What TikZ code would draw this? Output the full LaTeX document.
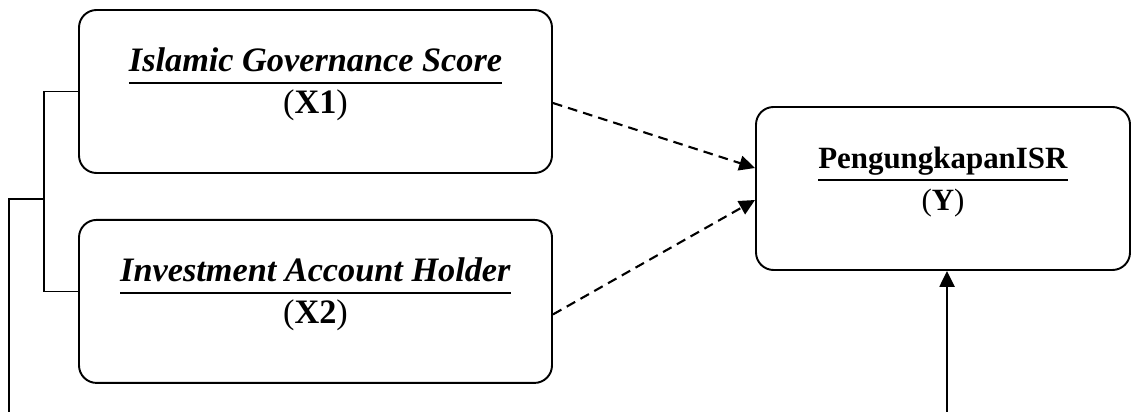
\documentclass[tikz,border=0pt]{standalone}
\usepackage{fontspec}
\setmainfont{Liberation Serif}
\usepackage{tikz}
\usetikzlibrary{arrows.meta, positioning, calc}
\tikzset{every node/.append style={align=center}}
\tikzset{
  var/.style={rectangle, draw, line width=1.1pt, rounded corners=10pt,
    minimum width=94.6mm, minimum height=32.6mm, text centered,
    font=\fontsize{19.5}{20}\selectfont},
  res/.style={var, minimum width=74.8mm, font=\fontsize{17.6}{20}\selectfont},
  arrow/.style={-{Triangle[length=9pt,width=8.5pt]}, line width=1.2pt},
  infl/.style={arrow, dash pattern=on 5.5pt off 3.5pt},
  brk/.style={line width=0.6pt}
}
\setlength{\arrayrulewidth}{1pt}
\newcommand{\frm}[2]{\begin{tabular}{@{}c@{}}#1\\\hline\rule{0pt}{17pt}#2\\[7pt]\end{tabular}}

\begin{document}
\begin{tikzpicture}[node distance=9mm and 40.8mm]
  \useasboundingbox (0,0) rectangle (22.64,-8.24);
  \node[var] (x1) at (6.31,-1.83) {\frm{\textbf{\textit{Islamic Governance Score}}}{(\textbf{X1})}};
  \node[var, below=of x1] (x2) {\frm{\textbf{\textit{Investment Account Holder}}}{(\textbf{X2})}};
  \node[res] (y) at (18.86,-3.77) {\frm{\textbf{PengungkapanISR}}{(\textbf{Y})}};
  % bracket on the left
  \coordinate (jn) at (0.88,-3.98);
  \coordinate (out) at (0.18,-8.24);
  \draw[brk] (x1.west) -| (jn) |- ([yshift=2mm]x2.west);
  \draw[brk] (out) |- (jn);
  % links into Y
  \draw[infl] ([yshift=-2.3mm]x1.east) -- ([yshift=4.1mm]y.west);
  \draw[infl] ([yshift=-2.6mm]x2.east) -- ([yshift=-2.3mm]y.west);
  \coordinate (src) at (18.94,-8.24);
  \draw[arrow] (src) -- (src |- y.south);
\end{tikzpicture}
\end{document}
